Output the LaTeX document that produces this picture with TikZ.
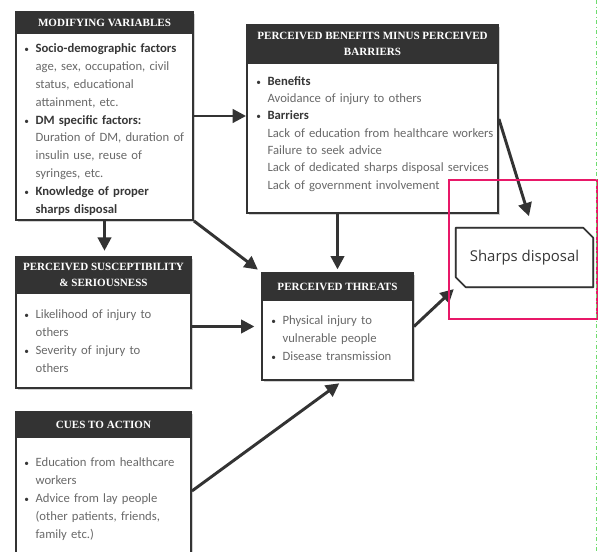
\documentclass[tikz,border=0pt]{standalone}
\usepackage{fontspec}
\setmainfont{Carlito}
\newfontfamily\titlefont{Liberation Serif}
\newfontfamily\sharpfont{Open Sans}
\usetikzlibrary{arrows.meta,fit,shadows,calc}

\definecolor{boxdark}{RGB}{51,51,51}
\definecolor{txtgray}{RGB}{105,105,105}
\definecolor{headgray}{RGB}{55,55,55}
\definecolor{framepink}{RGB}{232,24,104}
\definecolor{guidegreen}{RGB}{110,220,110}

\newcommand{\bitem}{\par\hangindent=8.5pt\hangafter=1\noindent\makebox[8.5pt][l]{\textcolor{headgray}{\scriptsize\textbullet}}}
\newcommand{\hd}[1]{{\bfseries\color{headgray}#1}}

\tikzset{
  box/.style={draw=boxdark, line width=1.4pt, fill=white, inner sep=0pt,
    drop shadow={shadow xshift=1.2pt, shadow yshift=-1.2pt, opacity=0.35}},
  titlebar/.style={fill=boxdark, draw=boxdark, line width=1.4pt, inner sep=0pt},
  titletext/.style={text=white, font=\titlefont\bfseries\fontsize{8.3}{12}\selectfont, align=center, inner sep=0pt},
  bodytext/.style={anchor=north west, inner sep=0pt, text=txtgray, font=\fontsize{9.5}{13.4}\selectfont, align=left},
  shline/.style={draw=boxdark, line width=1.2pt, line join=round},
  arr/.style={draw=boxdark, line width=2.2pt, -{Triangle[length=10pt, width=10pt]}},
}

\begin{document}
\begin{tikzpicture}[x=0.75pt, y=-0.75pt]
  \path[use as bounding box, fill=white] (0,0) rectangle (604,552);
  \clip (0,0) rectangle (604,552);

  \node[box, fit={(16,12) (193,220)}] (mod) {};
  \node[titlebar, fit={(16,12) (193,33)}] (modT) {};
  \node[titletext] (modTT) at (modT.center) {MODIFYING VARIABLES};
  \node[bodytext, text width=135pt] (modB) at (24,34.5) {%
    \bitem\hd{Socio-demographic factors}\newline age, sex, occupation, civil\newline status, educational\newline attainment, etc.
    \bitem\hd{DM specific factors:}\newline Duration of DM, duration of\newline insulin use, reuse of\newline syringes, etc.
    \bitem\hd{Knowledge of proper}\newline \hd{sharps disposal}\par};

  \node[box, fit={(247,25) (498,213)}] (ben) {};
  \node[titlebar, fit={(247,25) (498,63)}] (benT) {};
  \node[titletext] (benTT) at (benT.center) {PERCEIVED BENEFITS MINUS PERCEIVED\\ BARRIERS};
  \node[bodytext, text width=185pt, font=\fontsize{9.5}{13}\selectfont] (benB) at (256,67.5) {%
    \bitem\hd{Benefits}\newline Avoidance of injury to others
    \bitem\hd{Barriers}\newline Lack of education from healthcare workers\newline Failure to seek advice\newline
      Lack of dedicated sharps disposal services\newline Lack of government involvement\par};

  \node[box, fit={(16,257) (191,388)}] (sus) {};
  \node[titlebar, fit={(16,257) (191,293)}] (susT) {};
  \node[titletext] (susTT) at (susT.center) {PERCEIVED SUSCEPTIBILITY\\ \& SERIOUSNESS};
  \node[bodytext, text width=135pt] (susB) at (24,300.5) {%
    \bitem Likelihood of injury to\newline others
    \bitem Severity of injury to\newline others\par};

  \node[box, fit={(262,273) (413,380)}] (thr) {};
  \node[titlebar, fit={(262,273) (413,300)}] (thrT) {};
  \node[titletext] (thrTT) at (thrT.center) {PERCEIVED THREATS};
  \node[bodytext, text width=112pt] (thrB) at (271,306.5) {%
    \bitem Physical injury to\newline vulnerable people
    \bitem Disease transmission\par};

  \node[box, fit={(16,412) (191,570)}] (cue) {};
  \node[titlebar, fit={(16,412) (191,437)}] (cueT) {};
  \node[titletext] (cueTT) at (cueT.center) {CUES TO ACTION};
  \node[bodytext, text width=135pt] (cueB) at (24,448.5) {%
    \bitem Education from healthcare\newline workers
    \bitem Advice from lay people\newline (other patients, friends,\newline family etc.)\par};

  \node[minimum width=102.75pt, minimum height=44.25pt, inner sep=0pt,
    font=\sharpfont\fontsize{11.2}{13}\selectfont, text=headgray] (sh) at (524.5,257.5) {Sharps disposal};
  \draw[shline, draw=gray!55, shift={(1.3,1.3)}] (sh.north west) -- ([xshift=-7.5pt]sh.north east)
    -- ([yshift=-7.5pt]sh.north east) -- (sh.south east) -- ([xshift=7.5pt]sh.south west)
    -- ([yshift=7.5pt]sh.south west) -- cycle;
  \draw[shline] (sh.north west) -- ([xshift=-7.5pt]sh.north east)
    -- ([yshift=-7.5pt]sh.north east) -- (sh.south east) -- ([xshift=7.5pt]sh.south west)
    -- ([yshift=7.5pt]sh.south west) -- cycle;

  \draw[arr] (mod.east) -- (mod.east -| ben.west);
  \draw[arr, shorten >=4pt] (mod.south) -- (mod.south |- sus.north);
  \draw[arr, shorten >=3pt] (mod.south east) -- (thr.north west);
  \draw[arr, shorten >=2pt] (ben.south -| thr.north) -- (thr.north);
  \draw[arr, shorten >=9pt] (ben.east) -- ($(sh.north)+(8,0)$);
  \draw[arr, shorten >=5pt] (thr.west -| sus.east) -- (thr.west);
  \draw[arr, shorten >=2pt] (thr.east) -- (sh.south west);
  \draw[arr, shorten >=3pt] (cue.east) -- ($(thr.south)+(5,0)$);

  \draw[framepink, line width=2pt] (449,180) rectangle (597,319);
  \draw[guidegreen, line width=0.6pt, dash dot] (596,0) -- (596,552);
\end{tikzpicture}
\end{document}
